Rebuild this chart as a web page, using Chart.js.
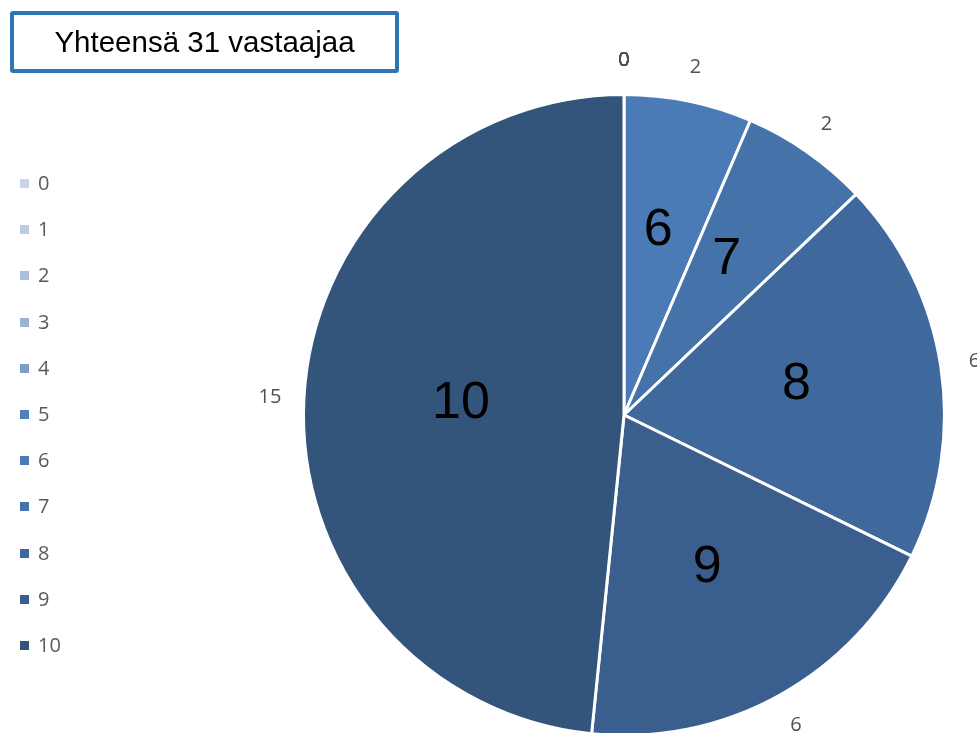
<!DOCTYPE html>
<html lang="fi">
<head>
  <meta charset="UTF-8" />
  <title>Yhteensä 31 vastaajaa</title>
  <script src="https://cdn.jsdelivr.net/npm/chart.js"></script>
  <style>
    html, body { margin: 0; padding: 0; background: #fff; }
    #wrap { position: relative; width: 977px; height: 733px; overflow: hidden; }
    #myChart { position: absolute; left: 0; top: 0; }
    #titleBox {
      position: absolute; left: 10px; top: 11px; width: 381px; height: 54px;
      border: 4px solid #2e75b6; border-radius: 3px;
      font: 29.5px "Liberation Sans", Arial, sans-serif; color: #000;
      display: flex; align-items: center; justify-content: center;
    }
    #chartLegend { position: absolute; left: 20px; top: 170px; }
    .legend-item {
      height: 46.2px; display: flex; align-items: flex-start;
      font: 20px "Open Sans", "DejaVu Sans", sans-serif; color: #595959; line-height: 26px;
    }
    .legend-color { display: inline-block; width: 9px; height: 9px; margin: 9px 9px 0 0; }
  </style>
</head>
<body>
  <div id="wrap">
    <canvas id="myChart" width="977" height="737"></canvas>
    <div id="titleBox">Yhteensä 31 vastaajaa</div>
    <div id="chartLegend"></div>
  </div>

  <script>
    // categories (score 0-10) and number of respondents
    const categories = ["0", "1", "2", "3", "4", "5", "6", "7", "8", "9", "10"];
    const counts = [0, 0, 0, 0, 0, 0, 2, 2, 6, 6, 15];
    const sliceColors = [
      "#c9d4e6", "#bccbe2", "#adbfdc", "#9eb2d4", "#7d9cc9", "#4f81bd",
      "#4a7bb7", "#4572a9", "#3f689c", "#3a5e8e", "#33557c"
    ];

    // draws the value labels outside and the category names inside
    const sliceLabels = {
      id: "sliceLabels",
      afterDatasetsDraw(chart) {
        const ctx = chart.ctx;
        const meta = chart.getDatasetMeta(0);
        ctx.save();
        ctx.textAlign = "center";
        ctx.textBaseline = "middle";
        meta.data.forEach((arc, i) => {
          const p = arc.getProps(["x", "y", "startAngle", "endAngle", "outerRadius"], true);
          const mid = (p.startAngle + p.endAngle) / 2;
          // value outside the pie
          const ro = p.outerRadius + 34;
          ctx.font = '20px "Open Sans", "DejaVu Sans", sans-serif';
          ctx.fillStyle = "#505050";
          ctx.fillText(String(counts[i]), p.x + Math.cos(mid) * ro, p.y + Math.sin(mid) * ro);
          // category inside the slice (narrow slices get the label further out)
          if (counts[i] > 0) {
            const ri = p.outerRadius * (0.59 - 0.006 * counts[i]);
            ctx.font = '52px "Liberation Sans", Arial, sans-serif';
            ctx.fillStyle = "#000";
            ctx.fillText(categories[i], p.x + Math.cos(mid) * ri - 3, p.y + Math.sin(mid) * ri - 3);
          }
        });
        ctx.restore();
      }
    };

    const ctx = document.getElementById("myChart").getContext("2d");
    const chart = new Chart(ctx, {
      type: "pie",
      data: {
        labels: categories,
        datasets: [{
          data: counts,
          backgroundColor: sliceColors,
          borderColor: "#ffffff",
          borderWidth: 3,
          hoverOffset: 0
        }]
      },
      options: {
        responsive: false,
        animation: false,
        layout: { padding: { left: 302, right: 31, top: 93, bottom: 0 } },
        plugins: {
          legend: { display: false },
          tooltip: { enabled: false }
        }
      },
      plugins: [sliceLabels]
    });

    // legend on the left
    const legend = document.getElementById("chartLegend");
    categories.forEach((c, i) => {
      const item = document.createElement("div");
      item.className = "legend-item";
      const box = document.createElement("span");
      box.className = "legend-color";
      box.style.backgroundColor = sliceColors[i];
      const text = document.createElement("span");
      text.textContent = c;
      item.appendChild(box);
      item.appendChild(text);
      legend.appendChild(item);
    });
  </script>
</body>
</html>
